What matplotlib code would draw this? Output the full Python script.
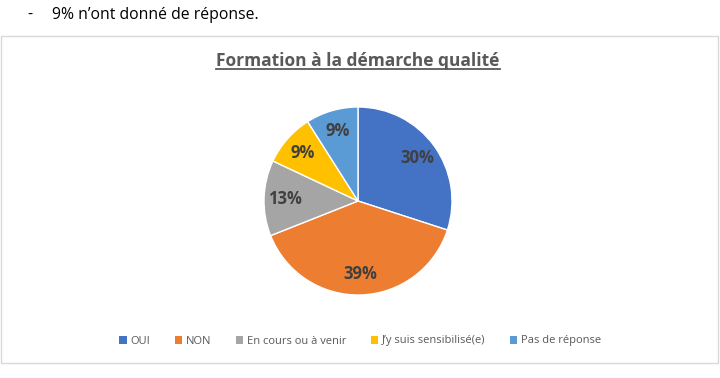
import matplotlib.pyplot as plt
from matplotlib.patches import Patch, Rectangle
from matplotlib.lines import Line2D

categories = ["OUI", "NON", "En cours ou à venir", "J’y suis sensibilisé(e)", "Pas de réponse"]
values = [30, 39, 13, 9, 9]
colors = ["#4472C4", "#ED7D31", "#A5A5A5", "#FFC000", "#5B9BD5"]
title = "Formation à la démarche qualité"
note = "9% n’ont donné de réponse."

plt.rcParams['font.family'] = ['Open Sans', 'DejaVu Sans']

W, H = 720, 378
fig = plt.figure(figsize=(7.2, 3.78), dpi=100)

# chart frame
fig.patches.append(Rectangle((1 / W, 1 - 363 / H), 717 / W, 327 / H,
                             transform=fig.transFigure, fill=False,
                             edgecolor="#D9D9D9", linewidth=1))

# text above the chart
fig.text(27 / W, 1 - 15 / H, "-", fontsize=11.3, va="center", color="black")
fig.text(52 / W, 1 - 15 / H, note, fontsize=11.3, va="center", color="black")

# pie
cx, cy, r = 358, 201, 94
ax = fig.add_axes([(cx - r) / W, 1 - (cy + r) / H, 2 * r / W, 2 * r / H])
wedges, _, autotexts = ax.pie(values, colors=colors, startangle=90, counterclock=False,
                              autopct=lambda p: f"{p:.0f}%", pctdistance=0.78,
                              radius=1, wedgeprops=dict(edgecolor="white", linewidth=1),
                              textprops=dict(color="#404040", fontsize=12, fontweight="bold"))
ax.set_xlim(-1, 1)
ax.set_ylim(-1, 1)
ax.set_aspect("equal")
ax.axis("off")

# title with underline
t = fig.text(cx / W, 1 - 61 / H, title, fontsize=12.5, fontweight="bold",
             color="#595959", ha="center", va="center")
fig.canvas.draw()
bb = t.get_window_extent(fig.canvas.get_renderer())
y_line = bb.y0 + 1
fig.lines.append(Line2D([bb.x0 / W, bb.x1 / W], [y_line / H] * 2,
                        transform=fig.transFigure, color="#595959", linewidth=1.3))

# legend
handles = [Patch(facecolor=c, edgecolor="none") for c in colors]
fig.legend(handles, categories, loc="center", bbox_to_anchor=(0.5, 1 - 341 / H),
           ncol=5, frameon=False, fontsize=8, handlelength=0.7, handleheight=0.7,
           handletextpad=0.3, columnspacing=2.2, labelcolor="#595959")

fig.savefig("out.png", dpi=100)
